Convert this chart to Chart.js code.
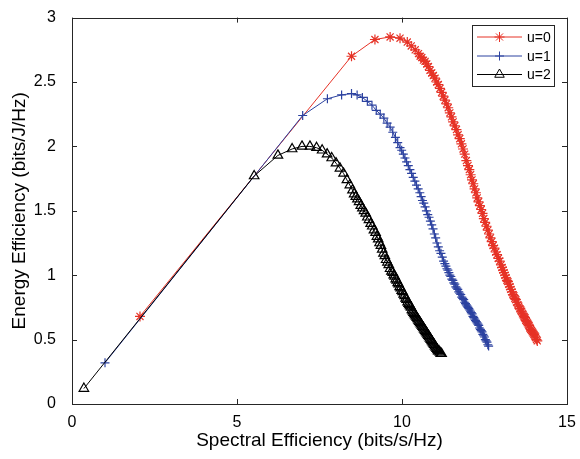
<!DOCTYPE html>
<html>
<head>
<meta charset="utf-8">
<script src="https://cdn.jsdelivr.net/npm/chart.js@4.4.1/dist/chart.umd.min.js"></script>
<style>
  html, body { margin: 0; padding: 0; background: #fff; }
  #wrap { width: 580px; height: 459px; }
</style>
</head>
<body>
<div id="wrap"><canvas id="chart" width="580" height="459"></canvas></div>
<script>
/* ── Data ────────────────────────────────────────────── */
const xTicks = [0, 5, 10, 15];
const yTicks = [0, 0.5, 1, 1.5, 2, 2.5, 3];
const seriesLabels = ['u=0', 'u=1', 'u=2'];

// u=0 (red, asterisk)
const u0X = [2.06, 8.47, 9.18, 9.64, 9.94, 10.16, 10.28, 10.40, 10.50,
  10.55, 10.60, 10.65, 10.70, 10.75, 10.80, 10.85, 10.90, 10.95, 11.00,
  11.05, 11.10, 11.15, 11.20, 11.25, 11.30, 11.35, 11.40, 11.45, 11.50,
  11.55, 11.60, 11.65, 11.70, 11.75, 11.80, 11.85, 11.90, 11.95, 12.00,
  12.04, 12.08, 12.12, 12.16, 12.20, 12.24, 12.28, 12.32, 12.36, 12.40,
  12.44, 12.48, 12.52, 12.56, 12.60, 12.64, 12.68, 12.72, 12.76, 12.80,
  12.84, 12.88, 12.92, 12.96, 13.00,
  13.03, 13.06, 13.09, 13.12, 13.15, 13.18, 13.21, 13.24, 13.27, 13.30,
  13.33, 13.36, 13.39, 13.42, 13.45, 13.48, 13.51, 13.54, 13.57, 13.60,
  13.625, 13.65, 13.675, 13.70, 13.725, 13.75, 13.775, 13.80, 13.825, 13.85,
  13.875, 13.90, 13.925, 13.95, 13.975, 14.00, 14.025, 14.05, 14.075, 14.10];
const u0Y = [0.68, 2.70, 2.83, 2.85, 2.84, 2.81, 2.78, 2.75, 2.72,
  2.70, 2.69, 2.67, 2.66, 2.64, 2.62, 2.59, 2.57, 2.55, 2.53,
  2.50, 2.48, 2.45, 2.42, 2.39, 2.36, 2.33, 2.30, 2.26, 2.23,
  2.19, 2.16, 2.13, 2.09, 2.06, 2.02, 1.98, 1.94, 1.89, 1.85,
  1.82, 1.78, 1.74, 1.71, 1.67, 1.64, 1.60, 1.57, 1.54, 1.51,
  1.48, 1.44, 1.41, 1.38, 1.35, 1.32, 1.29, 1.26, 1.23, 1.21,
  1.18, 1.16, 1.13, 1.11, 1.08,
  1.06, 1.04, 1.02, 1.00, 0.98, 0.96, 0.95, 0.93, 0.91, 0.89,
  0.87, 0.85, 0.84, 0.82, 0.81, 0.79, 0.77, 0.76, 0.74, 0.73,
  0.72, 0.70, 0.69, 0.68, 0.67, 0.65, 0.64, 0.63, 0.62, 0.61,
  0.59, 0.58, 0.57, 0.56, 0.55, 0.54, 0.53, 0.52, 0.50, 0.49];

// u=1 (blue, plus)
const u1X = [1.00, 6.99, 7.74, 8.17, 8.47, 8.64, 8.80, 8.95, 9.09, 9.22,
  9.34, 9.45, 9.55, 9.64, 9.72, 9.80, 9.87, 9.94,
  9.99, 10.04, 10.09, 10.14, 10.19, 10.24, 10.29, 10.34, 10.39, 10.44,
  10.49, 10.54, 10.58, 10.62, 10.66, 10.70, 10.74, 10.78, 10.82, 10.86,
  10.90, 10.94, 10.98, 11.02, 11.06, 11.10, 11.14, 11.18, 11.22, 11.26, 11.30,
  11.33, 11.36, 11.39, 11.42, 11.45, 11.48, 11.51, 11.54, 11.57, 11.60,
  11.63, 11.66, 11.69, 11.72, 11.75, 11.78, 11.81, 11.84, 11.87, 11.90,
  11.925, 11.95, 11.975, 12.00, 12.025, 12.05, 12.075, 12.10, 12.125, 12.15,
  12.175, 12.20, 12.225, 12.25, 12.275, 12.30, 12.325, 12.35, 12.375, 12.40,
  12.425, 12.45, 12.475, 12.50, 12.525, 12.55, 12.575, 12.60, 12.625];
const u1Y = [0.32, 2.24, 2.37, 2.40, 2.41, 2.40, 2.38, 2.35, 2.32, 2.28,
  2.25, 2.22, 2.18, 2.15, 2.11, 2.07, 2.03, 1.99,
  1.97, 1.94, 1.91, 1.88, 1.85, 1.82, 1.79, 1.76, 1.73, 1.70,
  1.67, 1.64, 1.61, 1.58, 1.56, 1.53, 1.50, 1.47, 1.45, 1.42,
  1.39, 1.36, 1.32, 1.29, 1.25, 1.22, 1.19, 1.17, 1.14, 1.11, 1.09,
  1.07, 1.05, 1.04, 1.02, 1.00, 0.99, 0.97, 0.96, 0.94, 0.93,
  0.91, 0.90, 0.89, 0.87, 0.86, 0.85, 0.83, 0.82, 0.81, 0.79,
  0.78, 0.77, 0.76, 0.75, 0.74, 0.73, 0.72, 0.71, 0.70, 0.68,
  0.67, 0.66, 0.65, 0.64, 0.63, 0.62, 0.61, 0.59, 0.58, 0.57,
  0.56, 0.54, 0.53, 0.52, 0.50, 0.49, 0.48, 0.46, 0.45];

// u=2 (black, triangle)
const u2X = [0.36, 5.52, 6.24, 6.67, 6.97, 7.21, 7.41, 7.58, 7.73, 7.87,
  8.00, 8.12, 8.23, 8.33, 8.42, 8.50,
  8.55, 8.60, 8.65, 8.70, 8.75, 8.80, 8.85, 8.90, 8.95, 9.00,
  9.05, 9.10, 9.15, 9.20, 9.24, 9.28, 9.32, 9.36, 9.40, 9.44,
  9.48, 9.52, 9.56, 9.60, 9.64, 9.68, 9.72,
  9.75, 9.78, 9.81, 9.84, 9.87, 9.90, 9.93, 9.96, 9.99, 10.02,
  10.05, 10.08, 10.11, 10.14, 10.17, 10.20,
  10.225, 10.25, 10.275, 10.30, 10.325, 10.35, 10.375, 10.40, 10.425, 10.45,
  10.475, 10.50, 10.525, 10.55, 10.575, 10.60, 10.625, 10.65, 10.675, 10.70,
  10.725, 10.75, 10.775, 10.80, 10.825, 10.85, 10.875, 10.90, 10.925, 10.95,
  10.975, 11.00, 11.025, 11.05, 11.075, 11.10, 11.125, 11.15, 11.175, 11.20];
const u2Y = [0.12, 1.77, 1.93, 1.98, 2.00, 2.00, 1.99, 1.97, 1.94, 1.91,
  1.87, 1.83, 1.79, 1.74, 1.70, 1.66,
  1.63, 1.61, 1.59, 1.57, 1.54, 1.52, 1.50, 1.48, 1.45, 1.43,
  1.40, 1.38, 1.35, 1.33, 1.30, 1.28, 1.25, 1.23, 1.20, 1.17,
  1.15, 1.12, 1.10, 1.08, 1.05, 1.03, 1.02,
  1.00, 0.99, 0.97, 0.96, 0.94, 0.93, 0.91, 0.90, 0.88, 0.87,
  0.85, 0.84, 0.82, 0.81, 0.79, 0.78,
  0.77, 0.76, 0.75, 0.73, 0.72, 0.71, 0.70, 0.69, 0.68, 0.67,
  0.66, 0.65, 0.64, 0.63, 0.62, 0.61, 0.60, 0.59, 0.58, 0.57,
  0.56, 0.55, 0.54, 0.53, 0.52, 0.51, 0.50, 0.49, 0.48, 0.47,
  0.46, 0.45, 0.44, 0.43, 0.42, 0.41, 0.41, 0.40, 0.39, 0.39];

/* ── Style ───────────────────────────────────────────── */
const FONT = "'Liberation Sans', Arial, sans-serif";
const INK = '#262626';
const RED = 'rgb(230,50,38)';
const BLUE = 'rgb(44,66,160)';
const BLACK = '#000';

const toPoints = (xs, ys) => xs.map((x, i) => ({ x, y: ys[i] }));

const datasets = [
  { label: seriesLabels[0], data: toPoints(u0X, u0Y), color: RED, pointStyle: 'star', radius: 5, order: 2 },
  { label: seriesLabels[1], data: toPoints(u1X, u1Y), color: BLUE, pointStyle: 'cross', radius: 4.5, order: 1 },
  { label: seriesLabels[2], data: toPoints(u2X, u2Y), color: BLACK, pointStyle: 'triangle', radius: 5.5, order: 0 }
].map(d => ({
  label: d.label,
  data: d.data,
  order: d.order,
  showLine: true,
  borderColor: d.color,
  borderWidth: 1,
  backgroundColor: 'rgba(0,0,0,0)',
  pointStyle: d.pointStyle,
  pointRadius: d.radius,
  pointBorderColor: d.color,
  pointBackgroundColor: 'rgba(0,0,0,0)',
  pointBorderWidth: 1.2,
  tension: 0
}));

/* ── Frame with inward ticks (MATLAB box) ───────────── */
const framePlugin = {
  id: 'frame',
  afterDatasetsDraw(chart) {
    const { ctx, chartArea: a, scales: { x, y } } = chart;
    ctx.save();
    ctx.strokeStyle = INK;
    ctx.lineWidth = 1;
    ctx.strokeRect(Math.round(a.left) + 0.5, Math.round(a.top) + 0.5,
      Math.round(a.right - a.left), Math.round(a.bottom - a.top));
    ctx.beginPath();
    const len = 5;
    xTicks.forEach(v => {
      const px = Math.round(x.getPixelForValue(v)) + 0.5;
      ctx.moveTo(px, a.bottom); ctx.lineTo(px, a.bottom - len);
      ctx.moveTo(px, a.top); ctx.lineTo(px, a.top + len);
    });
    yTicks.forEach(v => {
      const py = Math.round(y.getPixelForValue(v)) + 0.5;
      ctx.moveTo(a.left, py); ctx.lineTo(a.left + len, py);
      ctx.moveTo(a.right, py); ctx.lineTo(a.right - len, py);
    });
    ctx.stroke();
    ctx.restore();
  }
};

/* ── Legend box ──────────────────────────────────────── */
const legendPlugin = {
  id: 'boxLegend',
  afterDraw(chart) {
    const { ctx } = chart;
    const box = { x: 472, y: 25, w: 82, h: 61 };
    ctx.save();
    ctx.fillStyle = '#fff';
    ctx.fillRect(box.x, box.y, box.w, box.h);
    ctx.strokeStyle = INK;
    ctx.lineWidth = 1;
    ctx.strokeRect(box.x + 0.5, box.y + 0.5, box.w, box.h);
    const rows = [37, 56, 74.5];
    chart.data.datasets.forEach((ds, i) => {
      const ry = rows[i];
      ctx.strokeStyle = ds.borderColor;
      ctx.lineWidth = 1;
      ctx.beginPath();
      ctx.moveTo(477, ry); ctx.lineTo(522, ry);
      ctx.stroke();
      ctx.fillStyle = 'rgba(0,0,0,0)';
      Chart.helpers.drawPoint(ctx, {
        pointStyle: ds.pointStyle, radius: ds.pointRadius, borderWidth: 1, rotation: 0
      }, 499.5, ry);
      ctx.fillStyle = '#000';
      ctx.font = '14px ' + FONT;
      ctx.textBaseline = 'middle';
      ctx.textAlign = 'left';
      ctx.fillText(ds.label, 527, ry + 1);
    });
    ctx.restore();
  }
};

/* ── Chart ───────────────────────────────────────────── */
new Chart(document.getElementById('chart'), {
  type: 'scatter',
  data: { datasets },
  options: {
    responsive: false,
    animation: false,
    layout: { padding: { top: 13, right: 13, left: 0, bottom: 0 } },
    plugins: { legend: { display: false }, tooltip: { enabled: false } },
    scales: {
      x: {
        type: 'linear', min: 0, max: 15,
        afterBuildTicks: s => { s.ticks = xTicks.map(v => ({ value: v })); },
        afterFit: s => { s.height = 55; },
        grid: { display: false },
        border: { display: false },
        ticks: { color: '#000', padding: 1, font: { family: FONT, size: 16 }, callback: v => String(v) },
        title: {
          display: true, text: 'Spectral Efficiency (bits/s/Hz)', color: '#000',
          padding: { top: 0, bottom: 7 }, font: { family: FONT, size: 19 }
        }
      },
      y: {
        type: 'linear', min: 0, max: 3,
        afterBuildTicks: s => { s.ticks = yTicks.map(v => ({ value: v })); },
        afterFit: s => { s.width = 72; },
        grid: { display: false },
        border: { display: false },
        ticks: { color: '#000', padding: 8, font: { family: FONT, size: 16 }, callback: v => String(v) },
        title: {
          display: true, text: 'Energy Efficiency (bits/J/Hz)', color: '#000',
          padding: { top: 8, bottom: 2 }, font: { family: FONT, size: 19 }
        }
      }
    }
  },
  plugins: [framePlugin, legendPlugin]
});
</script>
</body>
</html>
